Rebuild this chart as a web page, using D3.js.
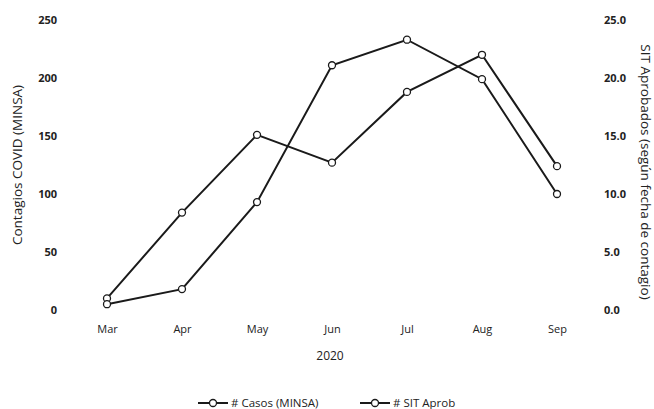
<!DOCTYPE html>
<html>
<head>
<meta charset="utf-8">
<script src="https://cdn.jsdelivr.net/npm/d3@7"></script>
<style>
  body { margin: 0; background: #fff; }
  text { font-family: "Open Sans", "Liberation Sans", sans-serif; fill: #222; }
</style>
</head>
<body>
<div id="chart"></div>
<script>
months       = ["Mar", "Apr", "May", "Jun", "Jul", "Aug", "Sep"]
casos_minsa  = [10, 84, 151, 127, 188, 220, 124]
sit_aprob    = [0.5, 1.8, 9.3, 21.1, 23.3, 19.9, 10.0]
left_ticks   = [0, 50, 100, 150, 200, 250]
right_ticks  = [0, 5, 10, 15, 20, 25]
series_names = ["# Casos (MINSA)", "# SIT Aprob"]

var W = 654, H = 409
var margin = {top: 20, bottom: 99, left: 107, right: 97}

var svg = d3.select("#chart").append("svg")
  .attr("width", W).attr("height", H)

var x  = d3.scalePoint().domain(months).range([margin.left, W - margin.right])
var yL = d3.scaleLinear().domain([0, 250]).range([H - margin.bottom, margin.top])
var yR = d3.scaleLinear().domain([0, 25]).range([H - margin.bottom, margin.top])

// left axis
var gl = svg.append("g").attr("transform", "translate(57,0)")
  .call(d3.axisLeft(yL).tickValues(left_ticks).tickSize(0).tickPadding(0))
gl.select(".domain").remove()
gl.selectAll("text").style("font-size", "11px").style("font-weight", "bold")
  .attr("font-family", null)

// right axis
var gr = svg.append("g").attr("transform", "translate(604,0)")
  .call(d3.axisRight(yR).tickValues(right_ticks).tickFormat(d3.format(".1f")).tickSize(0).tickPadding(0))
gr.select(".domain").remove()
gr.selectAll("text").style("font-size", "11px").style("font-weight", "bold")
  .attr("font-family", null)

// bottom axis
var gb = svg.append("g").attr("transform", "translate(0,325)")
  .call(d3.axisBottom(x).tickSize(0).tickPadding(0))
gb.select(".domain").remove()
gb.selectAll("text").style("font-size", "11px").attr("font-family", null)

svg.append("text").attr("x", 330).attr("y", 360).attr("text-anchor", "middle")
  .style("font-size", "12px").text("2020")

svg.append("text").attr("transform", "translate(22,165) rotate(-90)")
  .attr("text-anchor", "middle").style("font-size", "13.5px")
  .text("Contagios COVID (MINSA)")

svg.append("text").attr("transform", "translate(641,172) rotate(90)")
  .attr("text-anchor", "middle").style("font-size", "13.5px")
  .text("SIT Aprobados (según fecha de contagio)")

function drawSeries(vals, y) {
  var line = d3.line().x(function(d, i) { return x(months[i]) }).y(function(d) { return y(d) })
  svg.append("path").datum(vals)
    .attr("fill", "none").attr("stroke", "#1a1a1a").attr("stroke-width", 2)
    .attr("d", line)
  svg.selectAll(null).data(vals).enter().append("circle")
    .attr("cx", function(d, i) { return x(months[i]) })
    .attr("cy", function(d) { return y(d) })
    .attr("r", 3.5)
    .attr("fill", "#fff").attr("stroke", "#1a1a1a").attr("stroke-width", 1.3)
}

drawSeries(casos_minsa, yL)
drawSeries(sit_aprob, yR)

// legend
var legend_x = [198, 360]
series_names.forEach(function(name, i) {
  var g = svg.append("g").attr("transform", "translate(" + legend_x[i] + ",403)")
  g.append("line").attr("x1", 0).attr("x2", 30).attr("y1", 0).attr("y2", 0)
    .attr("stroke", "#1a1a1a").attr("stroke-width", 2)
  g.append("circle").attr("cx", 15).attr("cy", 0).attr("r", 3.5)
    .attr("fill", "#fff").attr("stroke", "#1a1a1a").attr("stroke-width", 1.3)
  g.append("text").attr("x", 33).attr("y", 4).style("font-size", "11.5px").text(name)
})
</script>
</body>
</html>
